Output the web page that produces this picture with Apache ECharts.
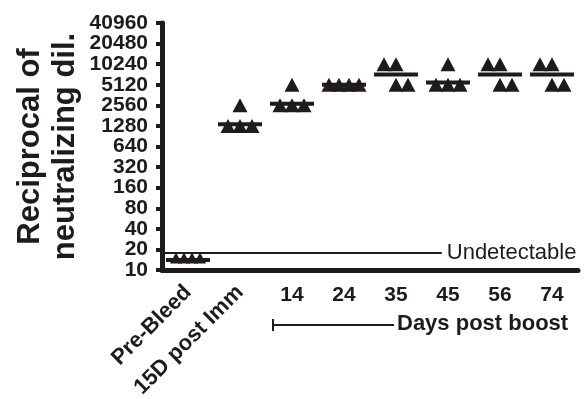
<!DOCTYPE html>
<html>
<head>
    <meta charset="utf-8">
    <title>Neutralizing titers</title>
    <script src="https://cdn.jsdelivr.net/npm/echarts@6/dist/echarts.min.js"></script>
    <style>
        html, body { margin: 0; padding: 0; background: #fff; }
    </style>
</head>
<body>
<div id="main" style="width: 586px;height:399px;"></div>
<script type="text/javascript">
    // categories on the x axis
    const categories = ['Pre-Bleed', '15D post Imm', '14', '24', '35', '45', '56', '74'];
    // individual titers per group
    const titers = [
        [15, 15, 15, 15],
        [2560, 1280, 1280, 1280],
        [5120, 2560, 2560, 2560],
        [5120, 5120, 5120, 5120],
        [10240, 10240, 5120, 5120],
        [10240, 5120, 5120, 5120],
        [10240, 10240, 5120, 5120],
        [10240, 10240, 5120, 5120]
    ];
    // horizontal mean bars
    const means = [14, 1350, 2700, 5120, 7240, 5500, 7240, 7240];
    // y tick labels (log2 scale)
    const yTicks = [10, 20, 40, 80, 160, 320, 640, 1280, 2560, 5120, 10240, 20480, 40960];
    const undetectable = 18;

    // pixel jitter of the points inside a group (style only)
    const jitter = [
        [-12, -4, 4, 12],
        [0, -12, 0, 12],
        [0, -12, 0, 12],
        [-15, -5, 5, 15],
        [-12, 0, 0, 12],
        [0, -12, 0, 12],
        [-12, 0, 0, 12],
        [-12, 0, 0, 12]
    ];

    const ink = '#1f1b1c';
    const toLog = v => Math.log2(v / yTicks[0]);

    const points = [];
    titers.forEach((group, i) => {
        group.forEach((v, k) => {
            points.push({
                value: [i, toLog(v)],
                symbolSize: i === 0 ? [12, 11] : [15, 14],
                symbolOffset: [jitter[i][k], 0]
            });
        });
    });

    const myChart = echarts.init(document.getElementById('main'));

    const option = {
        animation: false,
        backgroundColor: '#fff',
        grid: { left: 162, right: 8, top: 23, bottom: 129, outerBoundsMode: 'none', containLabel: false },
        xAxis: [{
            type: 'category',
            data: categories,
            position: 'bottom',
            axisLine: { lineStyle: { color: ink, width: 5 } },
            axisTick: { alignWithLabel: true, length: 6, lineStyle: { color: ink, width: 4 } },
            axisLabel: {
                color: ink, fontSize: 21, fontWeight: 'bold', fontFamily: 'Liberation Sans',
                margin: 15, interval: 0,
                formatter: (v, i) => i < 2 ? '' : v
            },
            splitLine: { show: false }
        }, {
            type: 'category',
            data: categories,
            position: 'bottom',
            axisLine: { show: false },
            axisTick: { show: false },
            axisLabel: {
                color: ink, fontSize: 22, fontWeight: 'bold', fontFamily: 'Liberation Sans',
                rotate: 45, margin: 19, interval: 0,
                formatter: (v, i) => i < 2 ? v : ''
            }
        }, {
            type: 'value',
            min: 0,
            max: categories.length,
            show: false
        }],
        yAxis: [{
            type: 'value',
            min: 0,
            max: yTicks.length - 1,
            interval: 1,
            axisLine: { show: true, lineStyle: { color: ink, width: 5 } },
            axisTick: { show: true, length: 6, lineStyle: { color: ink, width: 4 } },
            axisLabel: { show: false },
            splitLine: { show: false },
            name: 'Reciprocal of\nneutralizing dil.',
            nameLocation: 'middle',
            nameGap: 79,
            nameTextStyle: {
                color: ink, fontSize: 31, fontWeight: 'bold', fontFamily: 'Liberation Sans',
                lineHeight: 35, align: 'center'
            }
        }, {
            // label-only axis so every tick value is printed
            type: 'category',
            data: yTicks,
            position: 'left',
            boundaryGap: false,
            axisLine: { show: false },
            axisTick: { show: false },
            splitLine: { show: false },
            axisLabel: {
                color: ink, fontSize: 21, fontWeight: 'bold', fontFamily: 'Liberation Sans',
                margin: 14, interval: 0
            }
        }],
        series: [{
            type: 'scatter',
            symbol: 'triangle',
            itemStyle: { color: ink, opacity: 1 },
            data: points,
            z: 3
        }, {
            type: 'scatter',
            symbol: 'rect',
            symbolSize: [44, 4],
            itemStyle: { color: ink, opacity: 1 },
            data: means.map((m, i) => [i, toLog(m)]),
            z: 4
        }, {
            type: 'scatter',
            xAxisIndex: 2,
            data: [],
            markLine: {
                silent: true,
                symbol: 'none',
                lineStyle: { color: ink, width: 2, type: 'solid' },
                label: {
                    show: true, position: 'end', formatter: 'Undetectable',
                    color: ink, fontSize: 22, fontFamily: 'Liberation Sans', distance: 5
                },
                data: [[{ coord: [0, toLog(undetectable)] }, { coord: [5.38, toLog(undetectable)] }]]
            }
        }],
        graphic: [{
            type: 'line',
            shape: { x1: 273, y1: 325, x2: 394, y2: 325 },
            style: { stroke: ink, lineWidth: 2 }
        }, {
            type: 'line',
            shape: { x1: 273, y1: 319, x2: 273, y2: 331 },
            style: { stroke: ink, lineWidth: 2 }
        }, {
            type: 'text',
            left: 397,
            top: 313,
            style: {
                text: 'Days post boost', fill: ink,
                font: 'bold 22px "Liberation Sans"'
            }
        }]
    };

    myChart.setOption(option);
</script>
</body>
</html>
